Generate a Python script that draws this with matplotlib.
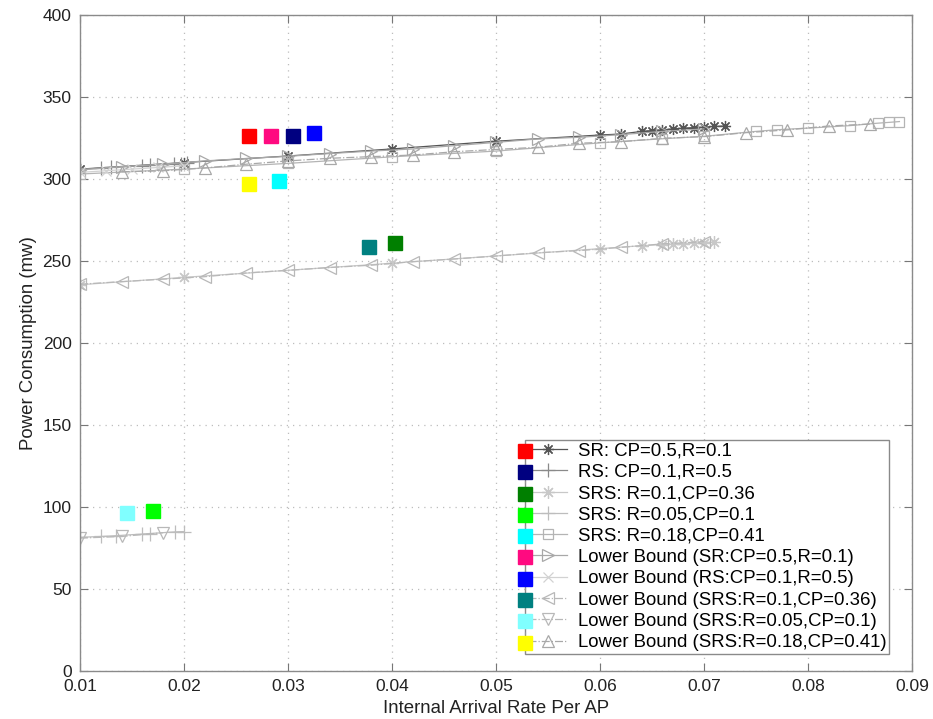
import numpy as np
import matplotlib
matplotlib.use("Agg")
import matplotlib.pyplot as plt
from matplotlib.lines import Line2D
from matplotlib.transforms import IdentityTransform

plt.rcParams['font.family'] = ['Liberation Sans', 'DejaVu Sans']

# ---- simulated power vs. arrival rate ----
sr_x = [0.01, 0.02, 0.03, 0.04, 0.05, 0.06, 0.062, 0.064, 0.065, 0.066, 0.067,
        0.068, 0.069, 0.070, 0.071, 0.072]
sr_y = [306, 310, 314, 318.3, 323, 326.8, 327.4, 329, 329.5, 330, 330.5, 331,
        331.3, 331.6, 332, 332.3]

rs_x = [0.01, 0.012, 0.013, 0.016, 0.0167, 0.019, 0.0197, 0.0203]
rs_y = [306, 306.5, 307, 308, 308.3, 309, 309.2, 309.5]

srs1_x = [0.01, 0.02, 0.04, 0.06, 0.064, 0.066, 0.067, 0.068, 0.069, 0.070, 0.071]
srs1_y = [235.5, 240, 248.6, 257.5, 259.3, 260, 260.3, 260.6, 260.9, 261.2, 261.5]

srs2_x = [0.01, 0.012, 0.0135, 0.016, 0.0167, 0.0191, 0.02]
srs2_y = [81.5, 82, 82.5, 83.5, 83.8, 84.8, 85]

srs3_x = [0.01, 0.02, 0.03, 0.04, 0.05, 0.06, 0.066, 0.07, 0.075, 0.077, 0.080,
          0.084, 0.0867, 0.0878, 0.0888]
srs3_y = [303, 306, 309.5, 313.5, 317, 322, 324.5, 326, 329, 330, 331, 332.5,
          334, 334.5, 335]

# ---- lower bounds ----
lb_sr_x = [0.01, 0.014, 0.018, 0.022, 0.026, 0.030, 0.034, 0.038, 0.042, 0.046,
           0.050, 0.054, 0.058, 0.062, 0.066, 0.070]
lb_sr_y = [305.5, 307.5, 309, 311, 312.5, 313.8, 315.5, 317, 318.3, 320.3, 322.3,
           324.4, 325.4, 327, 329, 330.5]

lb_rs_x = [0.01, 0.0125, 0.015, 0.0175, 0.02]
lb_rs_y = [304, 305, 306, 307, 308]

lb_srs1_x = [0.01, 0.014, 0.018, 0.022, 0.026, 0.030, 0.034, 0.038, 0.042, 0.046,
             0.050, 0.054, 0.058, 0.062, 0.066, 0.070]
lb_srs1_y = [235.8, 237.4, 238.9, 240.4, 242.7, 244.3, 246, 247.4, 249.6, 251.2,
             253, 255, 256.3, 258.3, 260.4, 261.8]

lb_srs2_x = [0.01, 0.014, 0.018]
lb_srs2_y = [81, 82, 84.3]

lb_srs3_x = [0.014, 0.018, 0.022, 0.026, 0.030, 0.034, 0.038, 0.042, 0.046, 0.050,
             0.054, 0.058, 0.062, 0.066, 0.070, 0.074, 0.078, 0.082, 0.086]
lb_srs3_y = [304.4, 305, 306.7, 309, 311, 312.6, 313.6, 314.6, 316.6, 318, 319.3,
             321.8, 322.7, 324.8, 325.8, 328.2, 329.9, 332.3, 333.5]

labels = ['SR: CP=0.5,R=0.1', 'RS: CP=0.1,R=0.5', 'SRS: R=0.1,CP=0.36',
          'SRS: R=0.05,CP=0.1', 'SRS: R=0.18,CP=0.41',
          'Lower Bound (SR:CP=0.5,R=0.1)', 'Lower Bound (RS:CP=0.1,R=0.5)',
          'Lower Bound (SRS:R=0.1,CP=0.36)', 'Lower Bound (SRS:R=0.05,CP=0.1)',
          'Lower Bound (SRS:R=0.18,CP=0.41)']

# coloured marks (analytic points), same order as labels
sq_colors = ['#ff0000', '#000080', '#007f00', '#00ff00', '#00ffff',
             '#ff0a80', '#0000ff', '#008080', '#80ffff', '#ffff00']
sq_x = [0.0263, 0.0305, 0.0403, 0.0170, 0.0291, 0.0284, 0.0325, 0.0378, 0.0145, 0.0263]
sq_y = [326.4, 326.0, 260.8, 97.4, 299.0, 326.0, 327.9, 258.4, 96.2, 297.0]

fig = plt.figure(figsize=(9.33, 7.19), dpi=100)
ax = fig.add_axes([0.0857, 0.0668, 0.8917, 0.9124])

star = (8, 2, 0)
series = [
    (sr_x, sr_y, '#555555', star, '-', 8),
    (rs_x, rs_y, '#8a8a8a', '+', '-', 10),
    (srs1_x, srs1_y, '#c8c8c8', star, '-', 9),
    (srs2_x, srs2_y, '#bdbdbd', '+', '-', 10),
    (srs3_x, srs3_y, '#b4b4b4', 's', '-', 7.5),
    (lb_sr_x, lb_sr_y, '#a8a8a8', '>', '-', 9),
    (lb_rs_x, lb_rs_y, '#d2d2d2', 'x', '-', 7),
    (lb_srs1_x, lb_srs1_y, '#b8b8b8', '<', '-.', 9),
    (lb_srs2_x, lb_srs2_y, '#b8b8b8', 'v', '-.', 9),
    (lb_srs3_x, lb_srs3_y, '#a8a8a8', '^', '-.', 9),
]
handles = []
for (x, y, c, m, ls, ms), lab in zip(series, labels):
    h, = ax.plot(x, y, color=c, marker=m, linestyle=ls, linewidth=0.9,
                 markersize=ms, markerfacecolor='none', markeredgecolor=c,
                 markeredgewidth=0.9, label=lab)
    handles.append(h)

for x, y, c in zip(sq_x, sq_y, sq_colors):
    ax.plot(x, y, marker='s', markersize=10, color=c, linestyle='none', zorder=5)

ax.set_xlim(0.01, 0.09)
ax.set_ylim(0, 400)
ax.set_xticks(np.arange(0.01, 0.0901, 0.01))
ax.set_xticklabels(['%.2f' % v for v in np.arange(0.01, 0.0901, 0.01)])
ax.set_yticks(np.arange(0, 401, 50))
ax.grid(True, linestyle=(0, (1, 4)), color='#bdbdbd', linewidth=0.9)
ax.tick_params(direction='in', length=6, top=True, right=True, labelsize=12.5,
               color='#777777', labelcolor='#222222', pad=6)
for s in ax.spines.values():
    s.set_color('#8a8a8a')
    s.set_linewidth(1.0)
ax.set_xlabel('Internal Arrival Rate Per AP', fontsize=13.4, color='#222222')
ax.set_ylabel('Power Consumption (mw)', fontsize=13.4, color='#222222')

leg = ax.legend(handles=handles, loc='lower right', bbox_to_anchor=(0.9724, 0.0259),
                borderaxespad=0, fontsize=13.4, labelspacing=0.23, handlelength=2.1,
                handletextpad=0.55, borderpad=0.15, fancybox=False, framealpha=1,
                edgecolor='#8a8a8a')
leg.get_frame().set_linewidth(1.0)

# colour keys straddling the left edge of the legend box
fig.canvas.draw()
r = fig.canvas.get_renderer()
fx = leg.get_frame().get_window_extent(r).x0
ys = [t.get_window_extent(r).y0 + t.get_window_extent(r).height / 2 for t in leg.get_texts()]
fig.add_artist(Line2D([fx, fx], [ys[-1], ys[0]], transform=IdentityTransform(),
                      color='#999999', linewidth=0.8, linestyle=(0, (2, 6)), zorder=6))
for yy, c in zip(ys, sq_colors):
    fig.add_artist(Line2D([fx], [yy], transform=IdentityTransform(), marker='s',
                          markersize=10, color=c, linestyle='none', zorder=7))

fig.savefig('out.png', dpi=100)
